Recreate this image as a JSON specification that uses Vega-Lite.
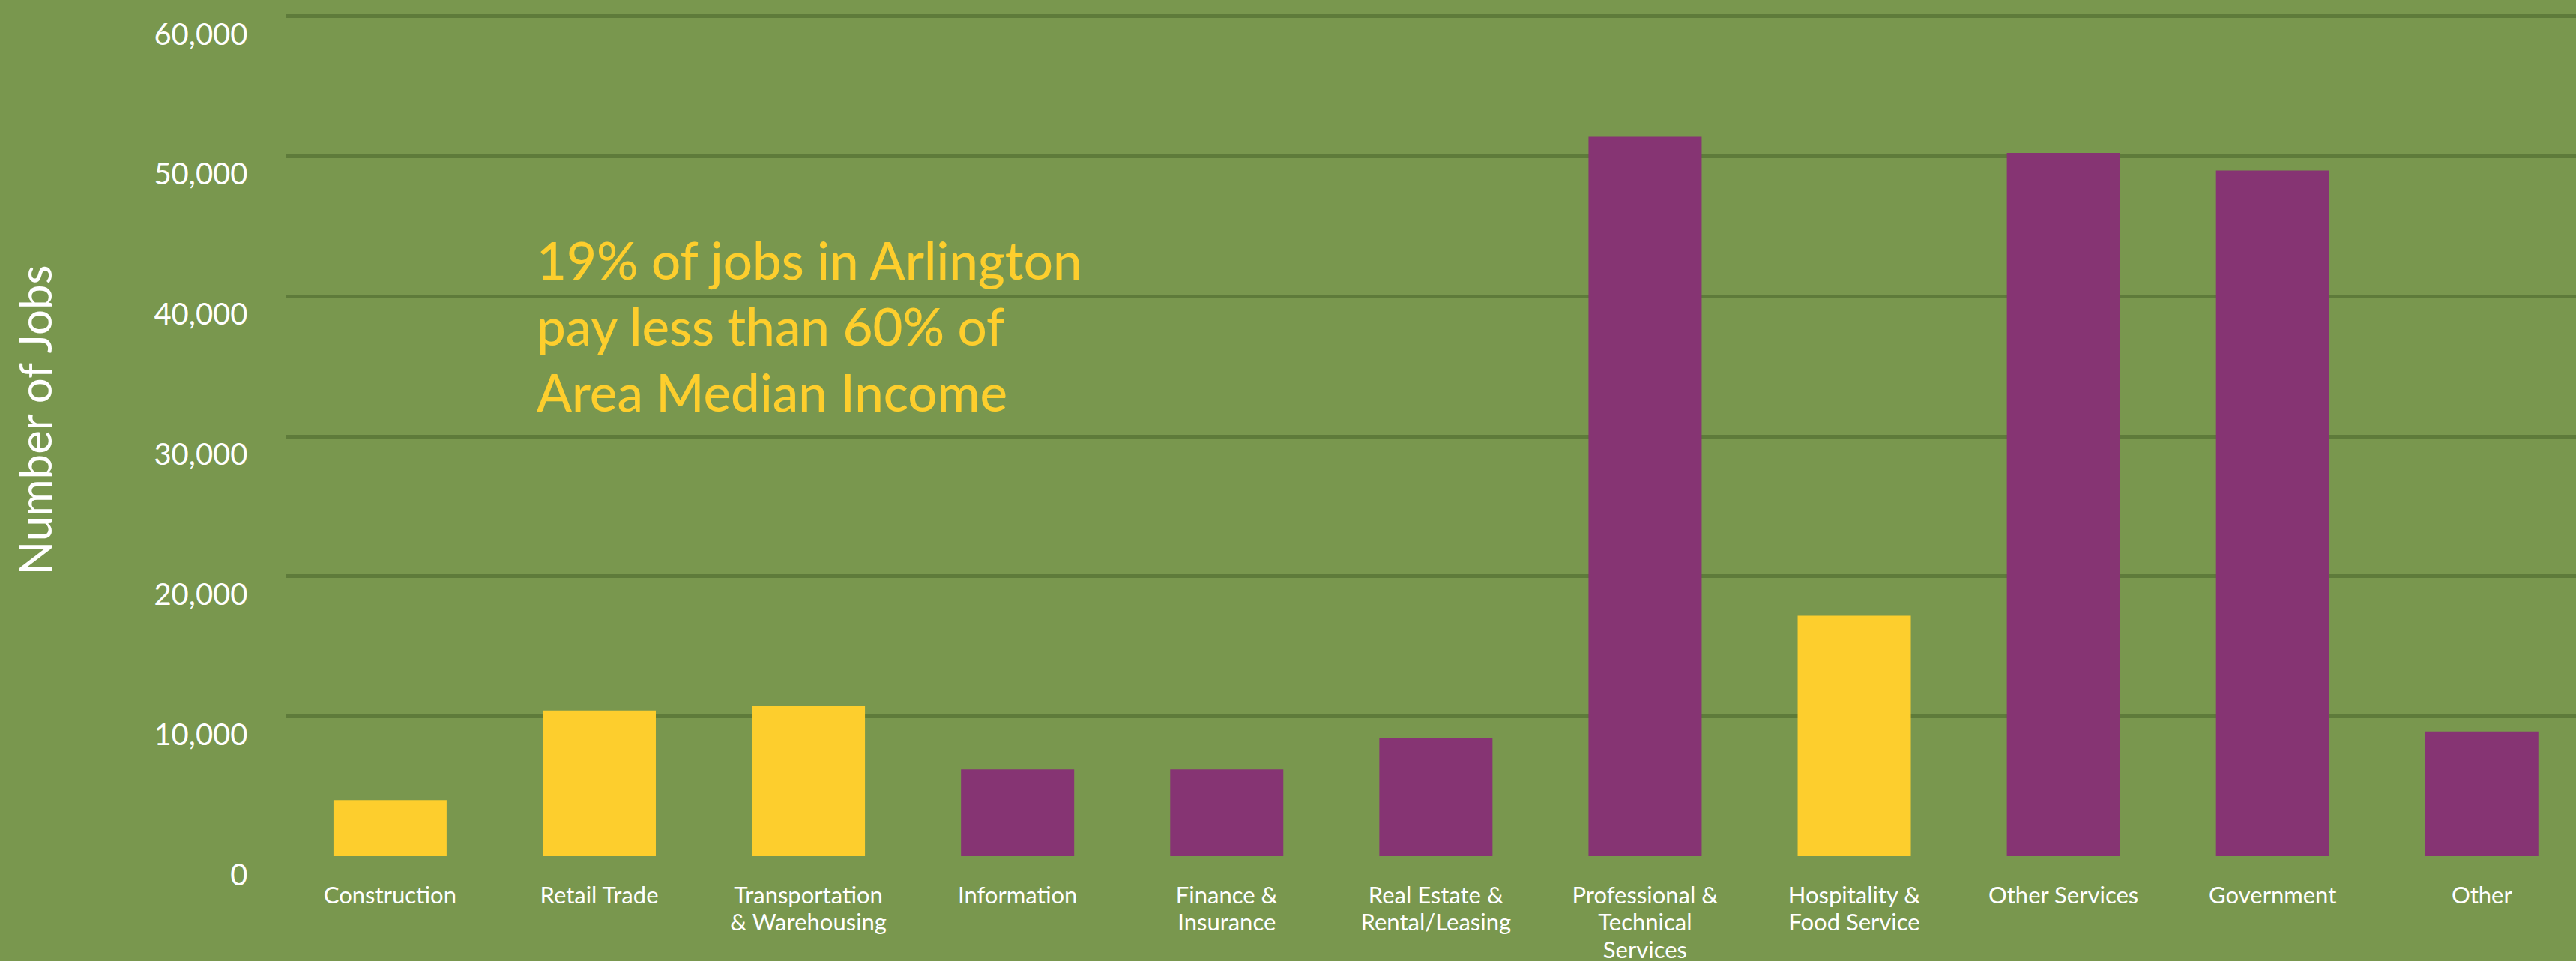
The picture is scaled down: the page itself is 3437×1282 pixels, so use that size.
{
  "$schema": "https://vega.github.io/schema/vega-lite/v6.json",
  "width": 3056,
  "height": 1121,
  "autosize": {"type": "none"},
  "padding": {"top": 21, "left": 381, "right": 0, "bottom": 140},
  "background": "#79974E",
  "config": {
    "view": {"stroke": null},
    "font": "Lato"
  },
  "datasets": {
    "jobs": [
      {"industry": "Construction", "jobs": 4000, "group": "low"},
      {"industry": "Retail Trade", "jobs": 10400, "group": "low"},
      {"industry": "Transportation & Warehousing", "jobs": 10700, "group": "low"},
      {"industry": "Information", "jobs": 6200, "group": "other"},
      {"industry": "Finance & Insurance", "jobs": 6200, "group": "other"},
      {"industry": "Real Estate & Rental/Leasing", "jobs": 8400, "group": "other"},
      {"industry": "Professional & Technical Services", "jobs": 51350, "group": "other"},
      {"industry": "Hospitality & Food Service", "jobs": 17150, "group": "low"},
      {"industry": "Other Services", "jobs": 50200, "group": "other"},
      {"industry": "Government", "jobs": 48950, "group": "other"},
      {"industry": "Other", "jobs": 8900, "group": "other"}
    ],
    "note": [
      {"text": "19% of jobs in Arlington\npay less than 60% of\nArea Median Income", "industry": "Retail Trade", "jobs": 41150}
    ]
  },
  "layer": [
    {
      "data": {"name": "jobs"},
      "mark": {"type": "bar"},
      "encoding": {
        "x": {
          "field": "industry",
          "type": "nominal",
          "sort": null,
          "scale": {"paddingInner": 0.459, "paddingOuter": 0.2045, "align": 0.56},
          "axis": {
            "title": null,
            "domain": false,
            "ticks": false,
            "labelAngle": 0,
            "labelColor": "#FFFFFF",
            "labelFont": "Lato",
            "labelFontSize": 31,
            "labelBaseline": "top",
            "labelPadding": 38,
            "labelLineHeight": 36.5,
            "labelLimit": 400,
            "labelExpr": "datum.label == 'Transportation & Warehousing' ? ['Transportation', '& Warehousing'] : datum.label == 'Finance & Insurance' ? ['Finance &', 'Insurance'] : datum.label == 'Real Estate & Rental/Leasing' ? ['Real Estate &', 'Rental/Leasing'] : datum.label == 'Professional & Technical Services' ? ['Professional &', 'Technical', 'Services'] : datum.label == 'Hospitality & Food Service' ? ['Hospitality &', 'Food Service'] : datum.label"
          }
        },
        "y": {
          "field": "jobs",
          "type": "quantitative",
          "scale": {"domain": [0, 60000], "nice": false},
          "axis": {
            "title": "Number of Jobs",
            "values": [0, 10000, 20000, 30000, 40000, 50000, 60000],
            "format": ",d",
            "domain": false,
            "ticks": false,
            "grid": true,
            "gridColor": "#5E7B3A",
            "gridWidth": 5,
            "gridOpacity": {"condition": {"test": "datum.value === 0", "value": 0}, "value": 1},
            "labelColor": "#FFFFFF",
            "labelFont": "Lato",
            "labelFontWeight": 400,
            "labelFontSize": 40,
            "labelPadding": 51,
            "labelOffset": 26,
            "labelBaseline": "middle",
            "titleColor": "#FFFFFF",
            "titleFont": "Lato",
            "titleFontWeight": 400,
            "titleFontSize": 60,
            "titleAngle": -90,
            "titleAlign": "center",
            "titleBaseline": "alphabetic",
            "titleX": -313,
            "titleY": 539
          }
        },
        "color": {
          "field": "group",
          "type": "nominal",
          "scale": {"domain": ["low", "other"], "range": ["#FDCE2D", "#863473"]},
          "legend": null
        }
      }
    },
    {
      "data": {"name": "note"},
      "mark": {
        "type": "text",
        "align": "left",
        "baseline": "alphabetic",
        "lineBreak": "\n",
        "lineHeight": 88,
        "fontSize": 69,
        "fontWeight": 500,
        "font": "Lato",
        "color": "#FDCE2D",
        "dx": -8
      },
      "encoding": {
        "x": {"field": "industry", "type": "nominal", "sort": null, "bandPosition": 0},
        "y": {"field": "jobs", "type": "quantitative"},
        "text": {"field": "text"}
      }
    }
  ]
}
